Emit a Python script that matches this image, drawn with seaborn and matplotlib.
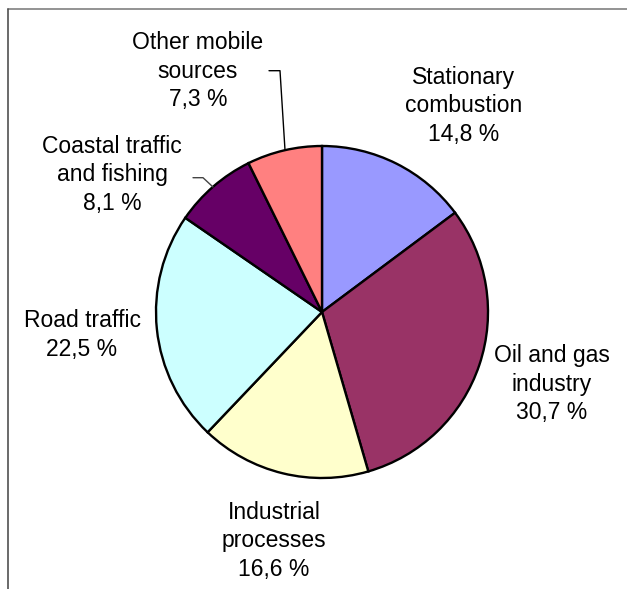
import matplotlib
matplotlib.use("Agg")
import matplotlib.pyplot as plt
import seaborn as sns
from matplotlib.lines import Line2D

categories = ["Stationary\ncombustion", "Oil and gas\nindustry", "Industrial\nprocesses",
              "Road traffic", "Coastal traffic\nand fishing", "Other mobile\nsources"]
values = [14.8, 30.7, 16.6, 22.5, 8.1, 7.3]
value_labels = ["14,8 %", "30,7 %", "16,6 %", "22,5 %", "8,1 %", "7,3 %"]
colors_hex = ["#9999FF", "#993366", "#FFFFCC", "#CCFFFF", "#660066", "#FF8080"]

sns.set_theme(style="white")
plt.rcParams['font.family'] = ['Liberation Sans', 'DejaVu Sans']

W, H = 627, 589
fig = plt.figure(figsize=(W / 100, H / 100), dpi=100)
ax = fig.add_axes([0, 0, 1, 1])
palette = sns.color_palette(colors_hex)

cx, cy, r = 322, H - 312, 166
ax.pie(values, colors=palette, startangle=90, counterclock=False,
       center=(cx, cy), radius=r,
       wedgeprops=dict(edgecolor="black", linewidth=1.7))
ax.set_xlim(0, W)
ax.set_ylim(0, H)
ax.set_aspect("equal")
ax.axis("off")

# label positions in pixel coordinates (x, y from top)
label_pos = [(464, 106), (552, 384), (274, 541), (82, 335), (112, 175), (198, 71)]
for cat, vl, (x, y) in zip(categories, value_labels, label_pos):
    ax.text(x, H - y, f"{cat}\n{vl}", ha="center", va="center",
            fontsize=16.5, color="black", linespacing=1.33)

# leader lines
ax.add_line(Line2D([269, 280, 285], [H - 70.7, H - 70.7, H - 150], color="black", lw=1.0))
ax.add_line(Line2D([193, 203, 213], [H - 177.7, H - 177.7, H - 187], color="#444444", lw=1.0))

# frame (top and left edges visible)
fig.add_artist(Line2D([7.5 / W, 1.0], [1 - 9 / H, 1 - 9 / H], transform=fig.transFigure,
                      color="#808080", lw=1.2))
fig.add_artist(Line2D([7.5 / W, 7.5 / W], [0, 1 - 9 / H], transform=fig.transFigure,
                      color="#505050", lw=1.2))

fig.savefig("out.png", dpi=100)
